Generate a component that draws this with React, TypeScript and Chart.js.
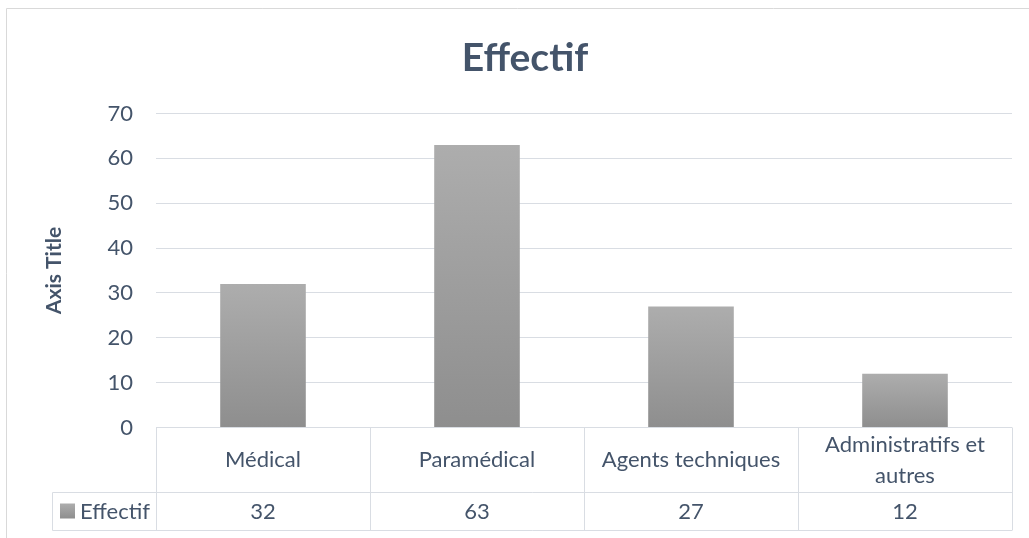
import React, { useEffect, useRef } from "react";
import { Chart, registerables } from "chart.js";

Chart.register(...registerables);

const categories = ["Médical", "Paramédical", "Agents techniques", "Administratifs et autres"];
const categoryLines = [["Médical"], ["Paramédical"], ["Agents techniques"], ["Administratifs et", "autres"]];
const effectif = [32, 63, 27, 12];
const seriesName = "Effectif";
const chartTitle = "Effectif";
const yAxisTitle = "Axis Title";
const yMin = 0;
const yMax = 70;
const yStep = 10;

const FONT = "Lato, 'Open Sans', sans-serif";
const TEXT = "#44546A";
const GRID = "#d9dde3";

const tablePlugin = {
  id: "dataTable",
  beforeDraw(chart: any) {
    const { ctx } = chart;
    ctx.save();
    ctx.strokeStyle = "#d9d9d9";
    ctx.lineWidth = 1;
    ctx.beginPath();
    ctx.moveTo(6.5, 538);
    ctx.lineTo(6.5, 8.5);
    ctx.lineTo(1029, 8.5);
    ctx.stroke();
    ctx.restore();
  },
  afterDraw(chart: any) {
    const { ctx, chartArea } = chart;
    const x = chart.scales.x;
    const left = chartArea.left;
    const right = chartArea.right;
    const top = chartArea.bottom;
    const mid = top + 65;
    const bottom = top + 103;
    const legLeft = 52.5;
    ctx.save();
    ctx.strokeStyle = GRID;
    ctx.lineWidth = 1;
    ctx.beginPath();
    ctx.moveTo(left, top);
    ctx.lineTo(right, top);
    ctx.moveTo(legLeft, mid);
    ctx.lineTo(right, mid);
    ctx.moveTo(legLeft, bottom);
    ctx.lineTo(right, bottom);
    ctx.moveTo(legLeft, mid);
    ctx.lineTo(legLeft, bottom);
    const n = categories.length;
    const step = (right - left) / n;
    for (let i = 0; i <= n; i++) {
      const xx = Math.round(left + i * step) + 0.5;
      ctx.moveTo(xx, top);
      ctx.lineTo(xx, bottom);
    }
    ctx.stroke();

    ctx.fillStyle = TEXT;
    ctx.font = `22px ${FONT}`;
    ctx.textAlign = "center";
    ctx.textBaseline = "middle";
    categories.forEach((c, i) => {
      const cx = x.getPixelForValue(i);
      const lines = categoryLines[i];
      const lh = 31;
      const cy = (top + mid) / 2;
      lines.forEach((l, j) => {
        ctx.fillText(l, cx, cy + (j - (lines.length - 1) / 2) * lh);
      });
      ctx.fillText(String(effectif[i]), cx, (mid + bottom) / 2);
    });

    // legend key
    const g = ctx.createLinearGradient(0, mid + 11, 0, mid + 26);
    g.addColorStop(0, "#adadad");
    g.addColorStop(1, "#8e8e8e");
    ctx.fillStyle = g;
    ctx.fillRect(60, mid + 11, 15, 15);
    ctx.fillStyle = TEXT;
    ctx.textAlign = "left";
    ctx.fillText(seriesName, 80, (mid + bottom) / 2);
    ctx.restore();
  },
};

export default function App() {
  const ref = useRef<HTMLCanvasElement | null>(null);
  useEffect(() => {
    if (!ref.current) return;
    const chart = new Chart(ref.current, {
      type: "bar",
      data: {
        labels: categories,
        datasets: [
          {
            label: seriesName,
            data: effectif,
            categoryPercentage: 1,
            barPercentage: 0.4,
            borderWidth: 0,
            backgroundColor: (c: any) => {
              const ch = c.chart;
              if (!ch.chartArea || c.dataIndex === undefined) return "#a0a0a0";
              const ys = ch.scales.y;
              const y0 = ys.getPixelForValue(effectif[c.dataIndex]);
              const y1 = ys.getPixelForValue(0);
              const g = ch.ctx.createLinearGradient(0, y0, 0, y1);
              g.addColorStop(0, "#adadad");
              g.addColorStop(1, "#8e8e8e");
              return g;
            },
          },
        ],
      },
      options: {
        animation: false,
        responsive: false,
        maintainAspectRatio: false,
        layout: { padding: { left: 38, right: 17, top: 0, bottom: 0 } },
        plugins: {
          legend: { display: false },
          tooltip: { enabled: false },
          title: {
            display: true,
            text: chartTitle,
            color: TEXT,
            font: { family: FONT, size: 39, weight: "bold", lineHeight: 1.2 },
            padding: { top: 35, bottom: 31.7 },
          },
        },
        scales: {
          x: {
            offset: true,
            grid: { display: false },
            border: { display: false },
            ticks: { display: false },
            afterFit: (s: any) => {
              s.height = 110.5;
            },
          },
          y: {
            min: yMin,
            max: yMax,
            ticks: {
              stepSize: yStep,
              color: TEXT,
              font: { family: FONT, size: 22 },
              padding: 23,
            },
            grid: { color: GRID, lineWidth: 1, drawTicks: false },
            border: { display: false },
            title: {
              display: true,
              text: yAxisTitle,
              color: TEXT,
              font: { family: FONT, size: 21, weight: "bold", lineHeight: 1.2 },
              padding: { top: 4, bottom: 0 },
            },
            afterFit: (s: any) => {
              s.width = 118;
            },
          },
        },
      },
      plugins: [tablePlugin],
    });
    return () => chart.destroy();
  }, []);
  return (
    <div style={{ position: "fixed", left: 0, top: 0, width: 1029, height: 538, background: "#fff" }}>
      <canvas ref={ref} width={1029} height={538} style={{ width: 1029, height: 538 }} />
    </div>
  );
}
